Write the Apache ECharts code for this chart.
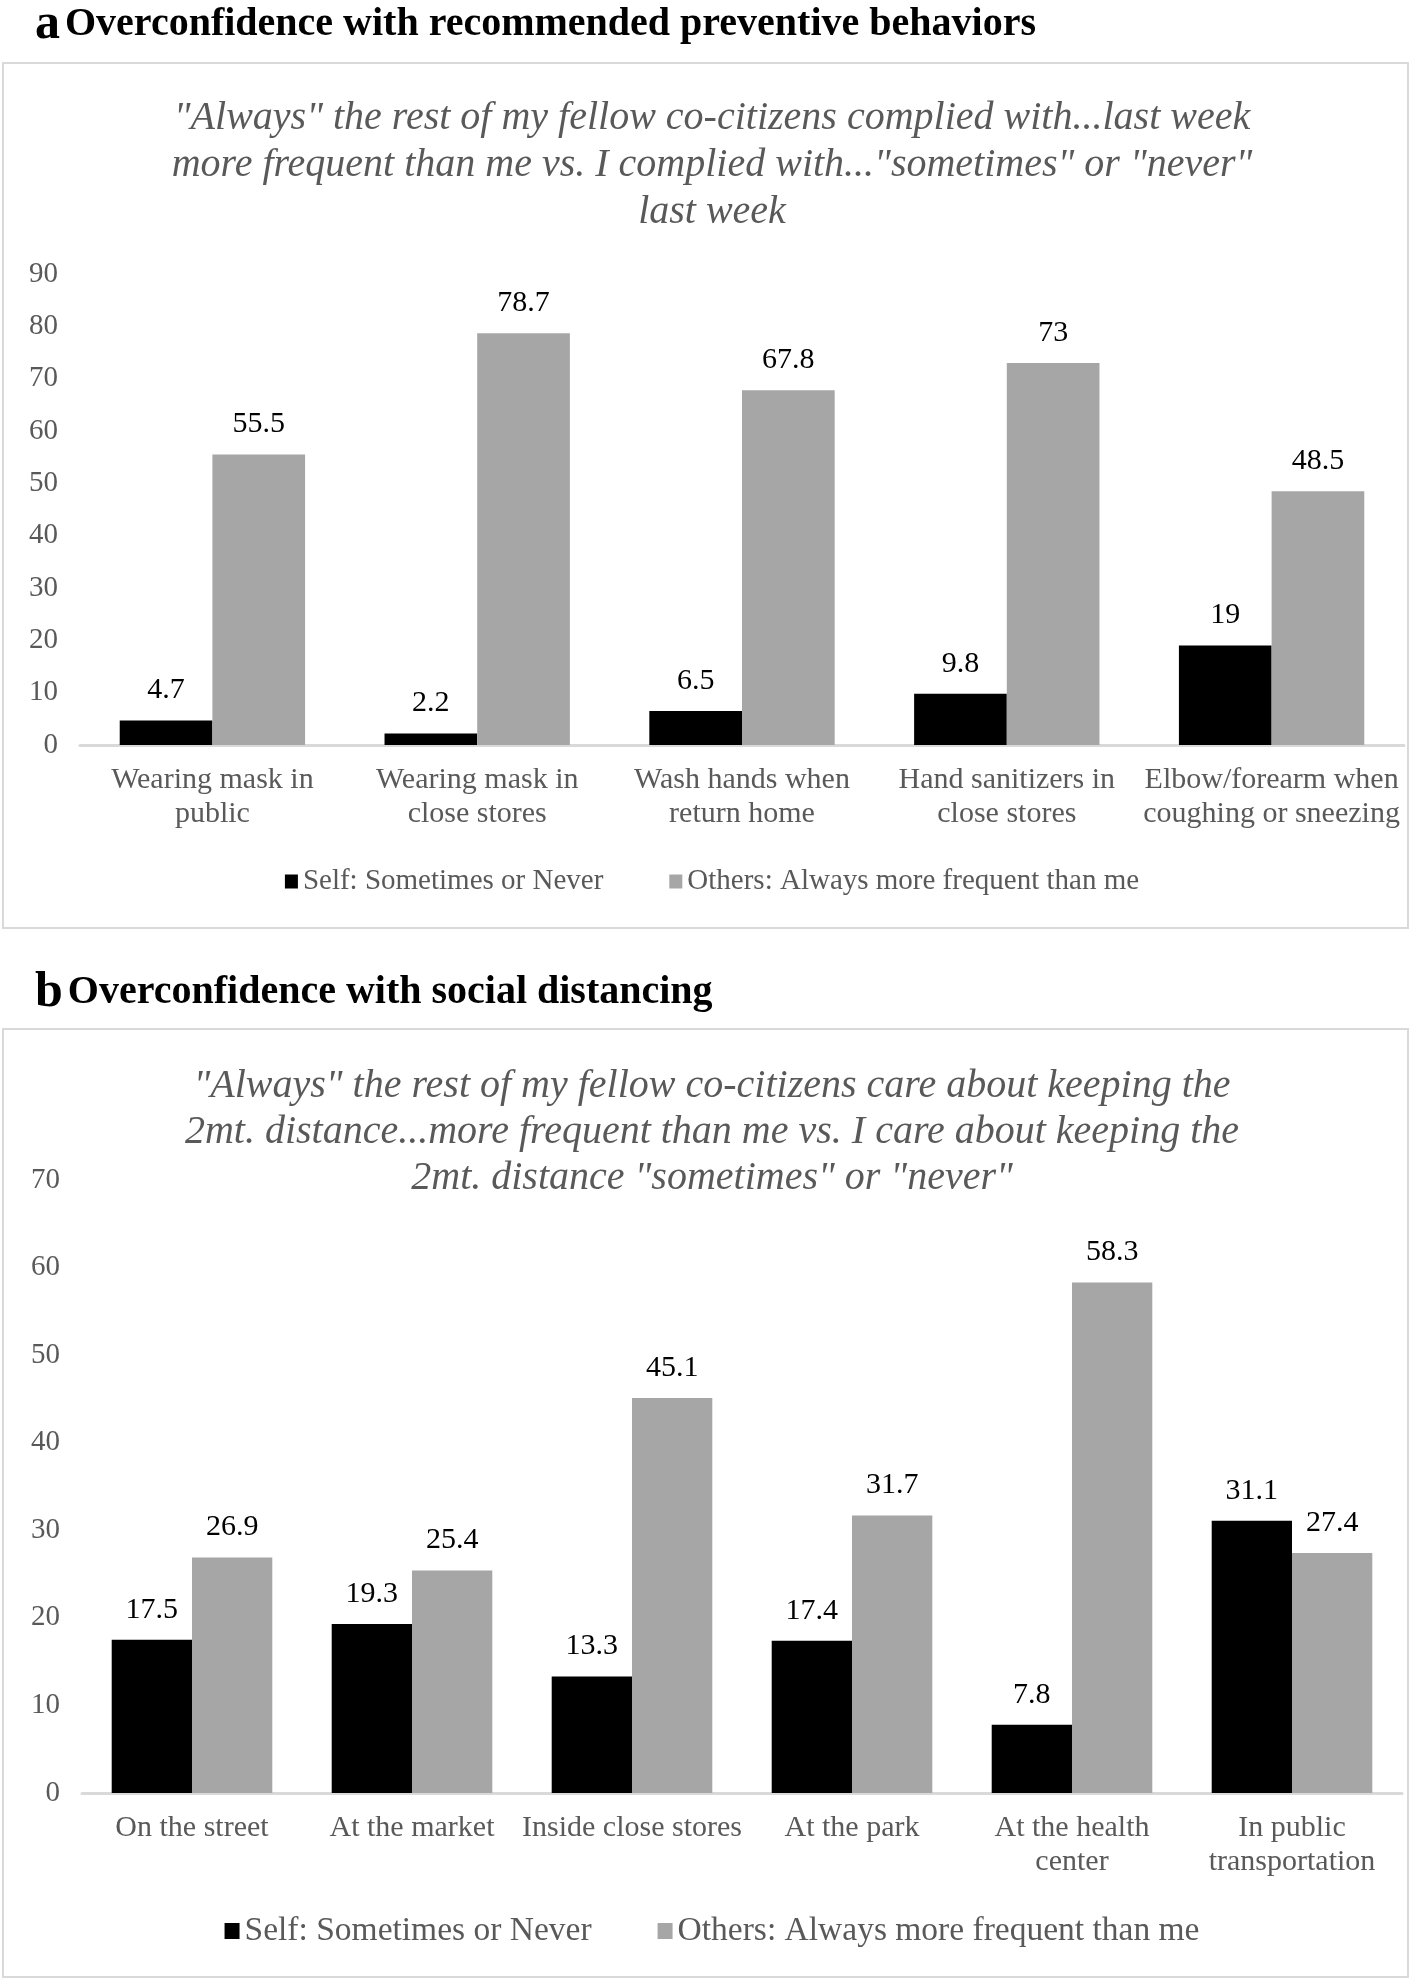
<!DOCTYPE html>
<html><head><meta charset="utf-8">
<script src="https://cdn.jsdelivr.net/npm/echarts@6/dist/echarts.min.js"></script>
<style>html,body{margin:0;padding:0;background:#fff}#c{width:1424px;height:1980px}</style>
</head><body><div id="c"></div>
<script>
const catsA = ["Wearing mask in\npublic","Wearing mask in\nclose stores","Wash hands when\nreturn home","Hand sanitizers in\nclose stores","Elbow/forearm when\ncoughing or sneezing"];
const selfA = [4.7, 2.2, 6.5, 9.8, 19];
const othersA = [55.5, 78.7, 67.8, 73, 48.5];
const catsB = ["On the street","At the market","Inside close stores","At the park","At the health\ncenter","In public\ntransportation"];
const selfB = [17.5, 19.3, 13.3, 17.4, 7.8, 31.1];
const othersB = [26.9, 25.4, 45.1, 31.7, 58.3, 27.4];
const seriesNames = ["Self: Sometimes or Never","Others: Always more frequent than me"];
const ticksA = {min:0,max:90,interval:10};
const ticksB = {min:0,max:70,interval:10};

const F = '"Liberation Serif","Times New Roman",serif';
const chart = echarts.init(document.getElementById('c'), null, {renderer:'canvas'});
const lbl = {show:true, position:'top', distance:15, color:'#000', fontSize:30, fontFamily:F};
function yAx(idx, t){return {gridIndex:idx, type:'value', min:t.min, max:t.max, interval:t.interval,
  axisLine:{show:false}, axisTick:{show:false}, splitLine:{show:false},
  axisLabel:{color:'#595959', fontSize:29, fontFamily:F, margin:22}};}
function xAx(idx, cats){return {gridIndex:idx, type:'category', data:cats,
  axisLine:{lineStyle:{color:'#d9d9d9', width:3}}, axisTick:{show:false},
  axisLabel:{color:'#595959', fontSize:30, fontFamily:F, lineHeight:34, margin:18, interval:0}};}
chart.setOption({
  animation:false,
  graphic:[
    {type:'rect', shape:{x:3,y:63,width:1405,height:865}, style:{fill:'none', stroke:'#d9d9d9', lineWidth:2}},
    {type:'rect', shape:{x:3,y:1029,width:1405,height:948}, style:{fill:'none', stroke:'#d9d9d9', lineWidth:2}},
    {type:'text', left:'center', top:95, style:{text:'"Always" the rest of my fellow co-citizens complied with...last week\nmore frequent than me vs. I complied with..."sometimes" or "never"\nlast week', fill:'#595959', font:'italic 40px '+F, lineHeight:47, textAlign:'center'}},
    {type:'text', left:'center', top:1063, style:{text:'"Always" the rest of my fellow co-citizens care about keeping the\n2mt. distance...more frequent than me vs. I care about keeping the\n2mt. distance "sometimes" or "never"', fill:'#595959', font:'italic 40px '+F, lineHeight:46, textAlign:'center'}}
  ],
  title:[
    {text:'{a|a} {t|Overconfidence with recommended preventive behaviors}', left:30, top:-5,
     textStyle:{rich:{a:{fontSize:50, fontWeight:'bold', fontFamily:F, color:'#000'}, t:{fontSize:40, fontWeight:'bold', fontFamily:F, color:'#000'}}}},
    {text:'{a|b} {t|Overconfidence with social distancing}', left:30, top:963,
     textStyle:{rich:{a:{fontSize:50, fontWeight:'bold', fontFamily:F, color:'#000'}, t:{fontSize:40, fontWeight:'bold', fontFamily:F, color:'#000'}}}}
  ],
  legend:[
    {data:seriesNames, left:'center', top:862, itemGap:66, itemWidth:13, itemHeight:14, icon:'rect',
     textStyle:{color:'#595959', fontSize:29, fontFamily:F}},
    {data:seriesNames, left:'center', top:1909, itemGap:66, itemWidth:15, itemHeight:16, icon:'rect',
     textStyle:{color:'#595959', fontSize:33.5, fontFamily:F}}
  ],
  grid:[
    {left:80, top:274, width:1324, height:471},
    {left:82, top:1180, width:1320, height:613}
  ],
  xAxis:[xAx(0,catsA), xAx(1,catsB)],
  yAxis:[yAx(0,ticksA), yAx(1,ticksB)],
  series:[
    {name:seriesNames[0], type:'bar', xAxisIndex:0, yAxisIndex:0, data:selfA, itemStyle:{color:'#000'}, barGap:'0%', barCategoryGap:'30%', label:lbl},
    {name:seriesNames[1], type:'bar', xAxisIndex:0, yAxisIndex:0, data:othersA, itemStyle:{color:'#a6a6a6'}, barGap:'0%', barCategoryGap:'30%', label:lbl},
    {name:seriesNames[0], type:'bar', xAxisIndex:1, yAxisIndex:1, data:selfB, itemStyle:{color:'#000'}, barGap:'0%', barCategoryGap:'27%', label:lbl},
    {name:seriesNames[1], type:'bar', xAxisIndex:1, yAxisIndex:1, data:othersB, itemStyle:{color:'#a6a6a6'}, barGap:'0%', barCategoryGap:'27%', label:lbl}
  ]
});
</script></body></html>
